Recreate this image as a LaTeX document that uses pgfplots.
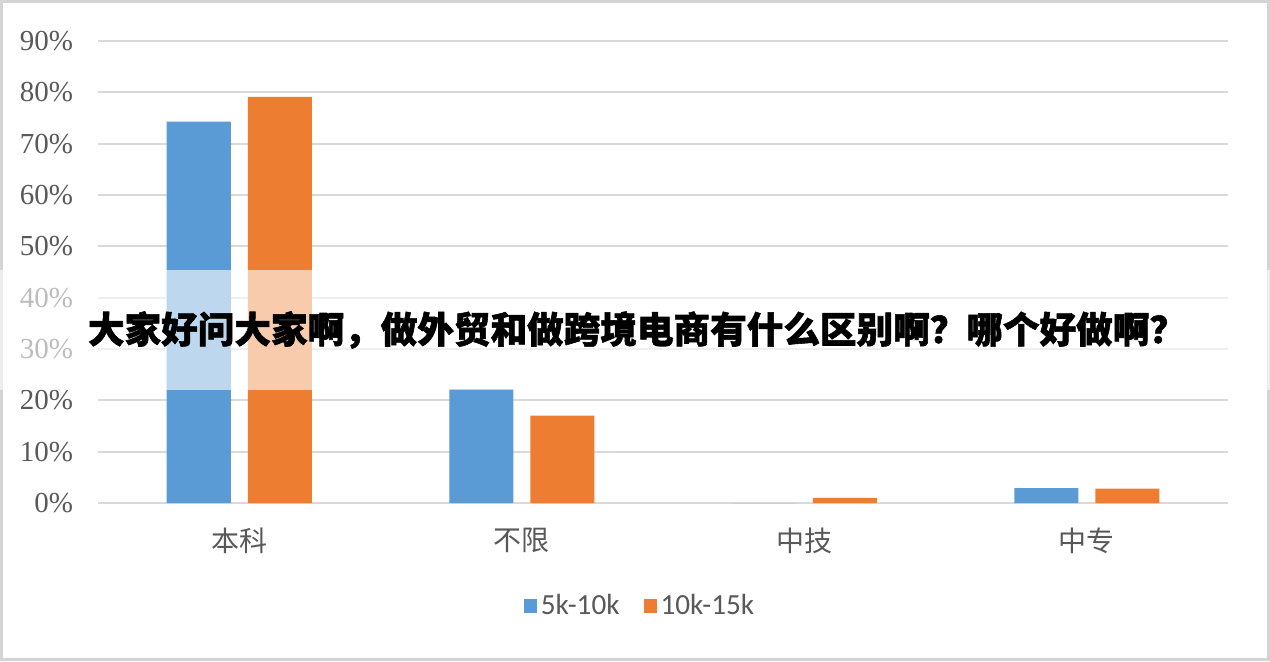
\documentclass[border=0pt]{standalone}
\usepackage{pgfplots}
\pgfplotsset{compat=1.18}
\usepackage{fontspec}
\setmainfont{Liberation Serif}
\newfontfamily\cjk{Noto Sans CJK SC}[BoldFeatures={FakeBold=1.5}]
\newfontfamily\legfont{Carlito}
\definecolor{blueA}{HTML}{5B9BD5}
\definecolor{orangeA}{HTML}{ED7D31}
\definecolor{gridc}{HTML}{D9D9D9}
\definecolor{txt}{HTML}{595959}
\definecolor{framec}{HTML}{D4D4D4}
\begin{document}
\begin{tikzpicture}[x=0.5pt,y=0.5pt]
\path[use as bounding box] (0,0) rectangle (1270,661);
\fill[white] (0,0) rectangle (1270,661);
\draw[framec, line width=1.5pt] (1.5,1.5) rectangle (1268.5,659.5);
\begin{axis}[
  at={(49pt,79pt)}, anchor=south west,
  scale only axis, width=565pt, height=231pt,
  xmin=-0.5, xmax=3.5, ymin=0, ymax=90,
  axis line style={draw=none},
  major tick length=0pt,
  ymajorgrids, grid style={gridc, line width=1pt},
  ytick={0,10,...,90},
  yticklabel={\pgfmathprintnumber{\tick}\%},
  /pgf/number format/assume math mode=true,
  yticklabel style={font=\fontsize{14.5}{14.5}\selectfont, text=txt, xshift=-9pt},
  xtick={0,1,2,3},
  xticklabels={本科,不限,中技,中专},
  xticklabel style={font=\cjk\fontsize{14}{14}\selectfont, text=txt, yshift=-9pt},
  legend style={at={(0.4805,-0.223)}, anchor=center, draw=none, fill=none,
    legend columns=2, font=\legfont\fontsize{14.6}{14.6}\selectfont, text=txt,
    /tikz/every even column/.append style={column sep=10pt}},
  legend image code/.code={\fill[#1] (0pt,-3.7pt) rectangle (6.5pt,3.7pt);},
]
\addplot[ybar, fill=blueA, draw=none, bar width=32pt, bar shift=-20.25pt]
  coordinates {(0,74.3) (1,22.2) (2,0) (3,2.9)};
\addlegendentry{5k-10k}
\addplot[ybar, fill=orangeA, draw=none, bar width=32pt, bar shift=20.25pt]
  coordinates {(0,79.1) (1,17.0) (2,1.0) (3,2.8)};
\addlegendentry{10k-15k}
\end{axis}
\fill[white, opacity=0.6] (0,271) rectangle (1270,391);
\node[font=\cjk\bfseries\fontsize{18.3}{18.3}\selectfont, text=black, anchor=center] at (637,331)
  {大家好问大家啊，做外贸和做跨境电商有什么区别啊？哪个好做啊？};
\end{tikzpicture}
\end{document}
